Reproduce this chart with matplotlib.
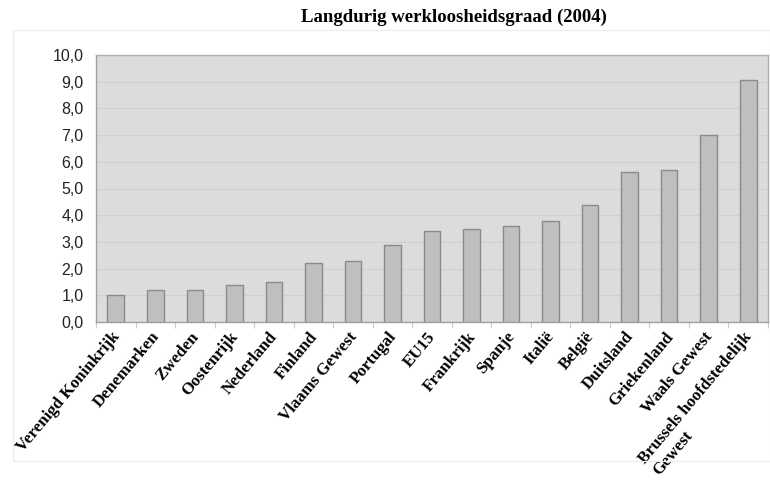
import matplotlib
matplotlib.use("Agg")
import matplotlib.pyplot as plt
import numpy as np
from matplotlib.patches import Rectangle

categories = ["Verenigd Koninkrijk", "Denemarken", "Zweden", "Oostenrijk", "Nederland",
              "Finland", "Vlaams Gewest", "Portugal", "EU15", "Frankrijk", "Spanje",
              "Italië", "België", "Duitsland", "Griekenland", "Waals Gewest",
              "Brussels hoofdstedelijk\nGewest"]
values = [1.0, 1.2, 1.2, 1.4, 1.5, 2.2, 2.3, 2.9, 3.4, 3.5, 3.6, 3.8, 4.4, 5.6, 5.7, 7.0, 9.05]
yticks = [0, 1, 2, 3, 4, 5, 6, 7, 8, 9, 10]
ytick_labels = ["0,0", "1,0", "2,0", "3,0", "4,0", "5,0", "6,0", "7,0", "8,0", "9,0", "10,0"]
title = "Langdurig werkloosheidsgraad (2004)"

W, H = 770, 491
fig = plt.figure(figsize=(W / 100, H / 100), dpi=100)

# faint outer frame
fig.patches.append(Rectangle((13 / W, 1 - 461 / H), (W - 13) / W, (461 - 30) / H,
                             transform=fig.transFigure, fill=False,
                             edgecolor="#ececec", linewidth=0.8))

ax = fig.add_axes([96 / W, 1 - 322 / H, (768 - 96) / W, (322 - 55) / H])
ax.set_facecolor("#dcdcdc")
x = np.arange(len(categories))
ax.bar(x, values, width=0.42, color="#bfbfbf", edgecolor="#8a8a8a", linewidth=1.0, zorder=3)

ax.set_xlim(-0.5, len(categories) - 0.5)
ax.set_ylim(0, 10)
ax.set_yticks(yticks)
ax.set_yticklabels(ytick_labels, fontfamily="Liberation Sans", fontsize=11.5, color="#222222")
ax.yaxis.grid(True, color="#d0d0d0", linewidth=0.8, zorder=0)
ax.tick_params(axis="y", length=0, pad=9)

ax.set_xticks(np.arange(-0.5, len(categories) - 0.4, 1), minor=False)
ax.set_xticklabels([])
ax.tick_params(axis="x", which="major", length=4, color="#cccccc", direction="out")
ax.set_xticks(x, minor=True)
ax.set_xticklabels(categories, minor=True, rotation=50, ha="right", va="top",
                   rotation_mode="anchor",
                   fontfamily="Liberation Serif", fontweight="bold", fontsize=12.2,
                   multialignment="left", linespacing=1.2)
ax.tick_params(axis="x", which="minor", length=0, pad=5)
off = matplotlib.transforms.ScaledTranslation(-5 / 100, 0, fig.dpi_scale_trans)
for lab in ax.get_xticklabels(minor=True):
    lab.set_transform(lab.get_transform() + off)

for s in ax.spines.values():
    s.set_color("#b0b0b0")
    s.set_linewidth(1.0)
ax.spines["left"].set_color("#a0a0a0")
ax.spines["bottom"].set_color("#a0a0a0")

fig.text(454 / W, 1 - 17 / H, title, ha="center", va="center",
         fontfamily="Liberation Serif", fontweight="bold", fontsize=13.5)

fig.savefig("out.png", dpi=100)
